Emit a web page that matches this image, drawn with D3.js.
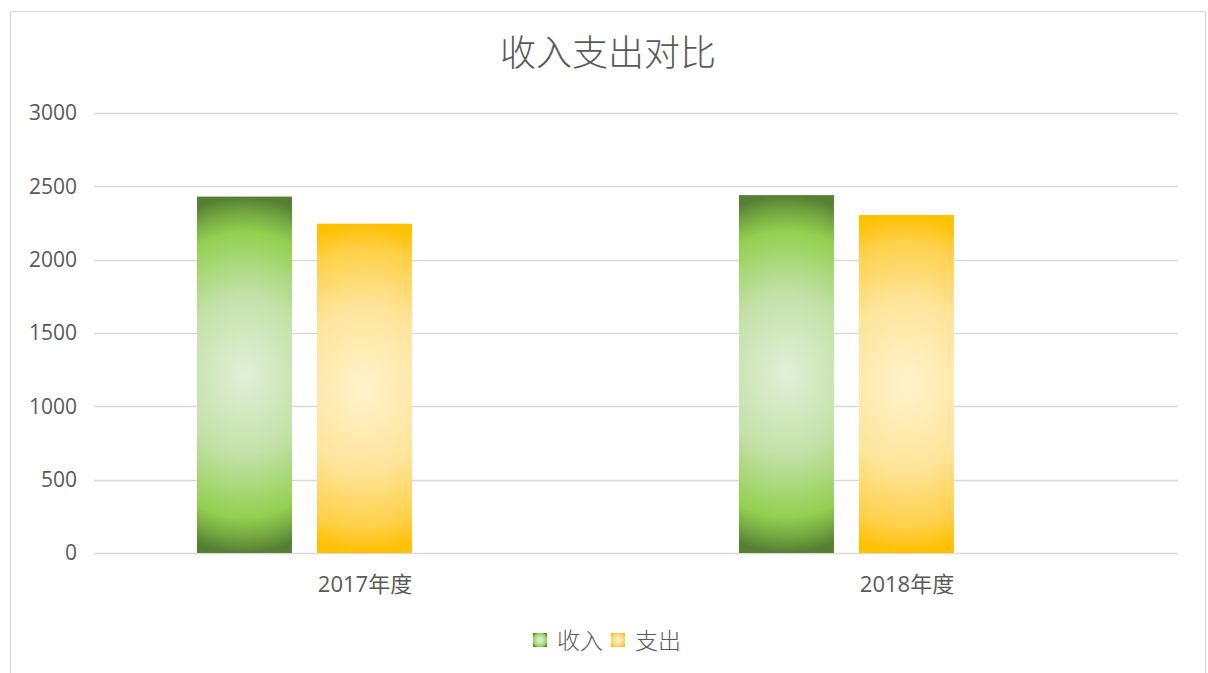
<!DOCTYPE html>
<html>
<head>
<meta charset="utf-8">
<script src="https://cdn.jsdelivr.net/npm/d3@7"></script>
<style>
  body { margin: 0; background: #fff; }
  text { font-family: "Open Sans", "Noto Sans CJK SC", sans-serif; fill: #595959; }
</style>
</head>
<body>
<script>
// chart data
const categories = ["2017年度", "2018年度"];
const seriesNames = ["收入", "支出"];
const income = [2430, 2440];
const expense = [2245, 2305];
const yTicks = [0, 500, 1000, 1500, 2000, 2500, 3000];

const width = 1208, height = 673;
const margin = { left: 94, right: 30, top: 113, bottom: 120 };

const svg = d3.select("body").append("svg")
    .attr("width", width)
    .attr("height", height);

// gradients like Excel's path fill
const defs = svg.append("defs");
const grads = [
    { id: "gGreen", stops: [[0, "#e2efd9"], [0.45, "#c3e1a8"], [0.8, "#92d050"], [0.9, "#77ab42"], [1, "#557f33"]] },
    { id: "gYellow", stops: [[0, "#fff2cc"], [0.5, "#ffe49a"], [0.85, "#ffcf45"], [1, "#ffc000"]] }
];
grads.forEach(g => {
    const rg = defs.append("radialGradient")
        .attr("id", g.id)
        .attr("cx", 0.5).attr("cy", 0.5).attr("r", 0.5)
        .attr("gradientTransform", "translate(0.5 0.5) scale(3 1) translate(-0.5 -0.5)");
    g.stops.forEach(s => rg.append("stop").attr("offset", s[0]).attr("stop-color", s[1]));
    // plain round version for the legend swatch
    const lg = defs.append("radialGradient")
        .attr("id", g.id + "L")
        .attr("cx", 0.5).attr("cy", 0.5).attr("r", 0.6);
    g.stops.forEach(s => lg.append("stop").attr("offset", s[0]).attr("stop-color", s[1]));
});
const fills = ["url(#gGreen)", "url(#gYellow)"];

// outer border
svg.append("rect")
    .attr("x", 10.5).attr("y", 11.5)
    .attr("width", 1195).attr("height", 700)
    .attr("fill", "none")
    .attr("stroke", "#d9d9d9");

const x = d3.scaleBand()
    .domain(categories)
    .range([margin.left, width - margin.right]);

// three slots per group (Excel leaves room for an empty third series)
const bw = x.bandwidth();
const xSub = d3.scaleBand()
    .domain([0, 1, 2])
    .range([bw * 0.19, bw * 0.808])
    .paddingInner(25 / 120);

const y = d3.scaleLinear()
    .domain([0, 3000])
    .range([553, margin.top]);

// gridlines
svg.append("g")
    .selectAll("line")
    .data(yTicks)
    .enter().append("line")
    .attr("x1", margin.left)
    .attr("x2", width - margin.right)
    .attr("y1", d => Math.round(y(d)) + 0.5)
    .attr("y2", d => Math.round(y(d)) + 0.5)
    .attr("stroke", "#d9d9d9")
    .attr("stroke-width", 1.5);

// y labels
svg.append("g")
    .selectAll("text")
    .data(yTicks)
    .enter().append("text")
    .attr("x", 77)
    .attr("y", d => y(d))
    .attr("dy", "0.35em")
    .attr("text-anchor", "end")
    .style("font-size", "21px")
    .text(d => d);

// bars
const seriesData = [income, expense];
const groups = svg.append("g")
    .selectAll("g")
    .data(categories)
    .enter().append("g")
    .attr("transform", d => `translate(${x(d)},0)`);

groups.selectAll("rect")
    .data((d, i) => seriesData.map((s, k) => ({ k, v: s[i] })))
    .enter().append("rect")
    .attr("x", d => xSub(d.k))
    .attr("width", xSub.bandwidth())
    .attr("y", d => y(d.v))
    .attr("height", d => y(0) - y(d.v))
    .attr("fill", d => fills[d.k]);

// category labels
svg.append("g")
    .selectAll("text")
    .data(categories)
    .enter().append("text")
    .attr("x", d => x(d) + x.bandwidth() / 2)
    .attr("y", 592)
    .attr("text-anchor", "middle")
    .style("font-size", "22px")
    .text(d => d);

// title
svg.append("text")
    .attr("x", 608)
    .attr("y", 66)
    .attr("text-anchor", "middle")
    .style("font-size", "36px")
    .style("font-weight", 300)
    .text("收入支出对比");

// legend
const legend = svg.append("g");
const legendItems = [{ x: 533, name: seriesNames[0] }, { x: 611, name: seriesNames[1] }];
legendItems.forEach((d, i) => {
    legend.append("rect")
        .attr("x", d.x).attr("y", 633)
        .attr("width", 14).attr("height", 14)
        .attr("fill", `url(#${grads[i].id}L)`);
    legend.append("text")
        .attr("x", d.x + 24)
        .attr("y", 649)
        .style("font-size", "23px")
        .style("font-weight", 300)
        .text(d.name);
});
</script>
</body>
</html>
